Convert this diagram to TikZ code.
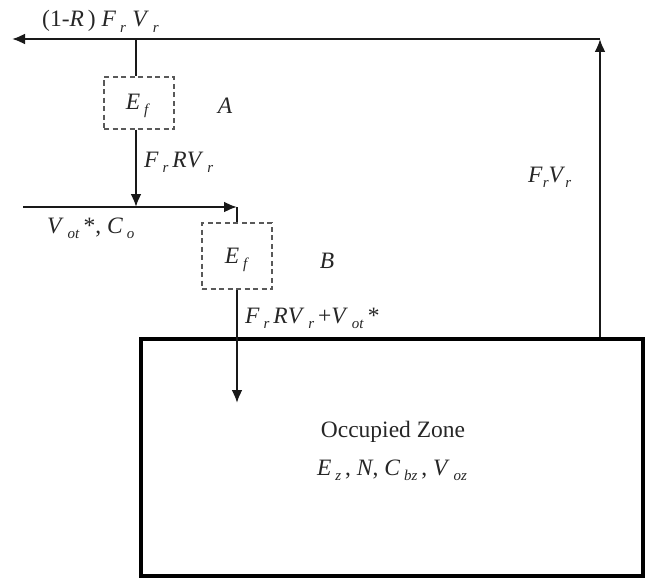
\documentclass[tikz,border=0pt]{standalone}
\usepackage{fontspec}
\setmainfont{Liberation Serif}
\usetikzlibrary{arrows.meta,positioning}

\newcommand{\sv}[2]{\textit{#1}\,\raisebox{-0.5ex}{\fontsize{15}{15}\selectfont\textit{#2}}}

\begin{document}
\begin{tikzpicture}
[x=1pt,y=-1pt,
>={Latex[length=13pt,width=11pt]},
every node/.style={font=\fontsize{23.5}{28}\selectfont},
%
filter/.style={shape=rectangle,draw=black!65,dashed,dash pattern=on 5pt off 3.5pt,line width=1.3pt,inner sep=0pt},
zone/.style={shape=rectangle,draw=black,line width=3.8pt,minimum width=502pt,minimum height=237pt},
lbl/.style={inner sep=0pt,text=black!85},
%
flow/.style={line width=2.2pt,black!90}]

\useasboundingbox (0,0) rectangle (645,578);

\node (fa) [filter,minimum width=70pt,minimum height=52pt] at (139,103) {};
\node (fb) [filter,minimum width=70pt,minimum height=66pt] at (237,256) {};
\node (z) [zone] at (392,457.5) {};

\coordinate (out) at (12,39);
\coordinate (top) at (600,39);
\coordinate (ja) at (136,39);
\coordinate (jb) at (136,207);
\coordinate (in) at (23,207);
\coordinate (kb) at (237,207);
\coordinate (zr) at (600,337);
\coordinate (tip) at (237,403);

\draw[flow,->] (zr) -- (top);
\draw[flow,->] (top) -- (out);
\draw[flow] (ja) -- (ja |- fa.north);
\draw[flow,->] (ja |- fa.south) -- (jb);
\draw[flow,->] (in) -- (kb);
\draw[flow] (kb) -- (fb.north);
\draw[flow,->] (fb.south) -- (tip);

\node (a) [lbl] at (138,106) {\sv{E}{f}};
\node (b) [lbl] at (237,260) {\sv{E}{f}};
\node (la) [lbl] at (225,106) {\textit{A}};
\node (lb) [lbl] at (327,261) {\textit{B}};

\node (l1) [lbl,anchor=base west] at (42,27) {(1-\textit{R}\,) \sv{F}{r}\;\sv{V}{r}};
\node (l2) [lbl,anchor=base west] at (144,167) {\sv{F}{r}\,\textit{R}\sv{V}{r}};
\node (l3) [lbl,anchor=base west] at (47,233) {\sv{V}{ot}\,*, \sv{C}{o}};
\node (l4) [lbl,anchor=base west] at (245,323) {\sv{F}{r}\,\textit{R}\sv{V}{r}\,+\sv{V}{ot}\,*};
\node (l5) [lbl,anchor=base west] at (528,182) {\textit{F}\raisebox{-0.5ex}{\fontsize{15}{15}\selectfont\textit{r}}\textit{V}\raisebox{-0.5ex}{\fontsize{15}{15}\selectfont\textit{r}}};

\node (z1) [lbl,anchor=base] at (393,437) {Occupied Zone};
\node (z2) [lbl,anchor=base] at (392,475) {\sv{E}{z}\,, \textit{N}, \sv{C}{bz}\,, \sv{V}{oz}};

\end{tikzpicture}
\end{document}
